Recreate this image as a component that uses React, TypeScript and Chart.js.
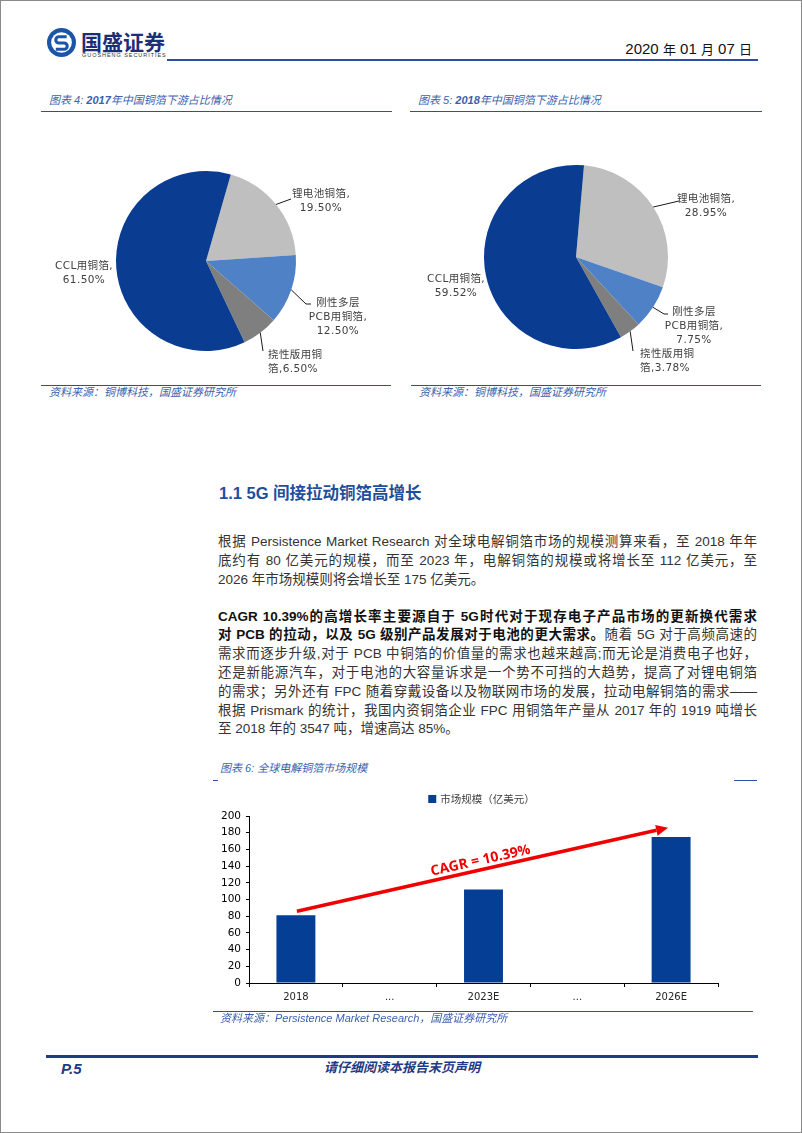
import React, { useEffect, useRef } from "react";
import { Chart, registerables } from "chart.js";

Chart.register(...registerables);

// ---------- data ----------
const PIE_CATEGORIES = ["锂电池铜箔", "刚性多层PCB用铜箔", "挠性版用铜箔", "CCL用铜箔"];
const PIE_2017_VALUES = [19.5, 12.5, 6.5, 61.5];
const PIE_2018_VALUES = [28.95, 7.75, 3.78, 59.52];
const PIE_COLORS = ["#bfbfbf", "#4f81c7", "#7f7f7f", "#0a3d92"];

const BAR_CATEGORIES = ["2018", "...", "2023E", "...", "2026E"];
const BAR_VALUES = [81, null, 112, null, 175];
const BAR_SERIES_LABEL = "市场规模（亿美元）";
const Y_TICK_MIN = 0;
const Y_TICK_MAX = 200;
const Y_TICK_STEP = 20;
const CAGR_LABEL = "CAGR = 10.39%";
const ARROW_START = { index: 0, value: 86 };
const ARROW_END = { index: 4, value: 186 };

// ---------- styles ----------
const LATIN = "'Liberation Sans'";
const CJK = "'Noto Sans CJK SC'";
const BODY_FONT = `${LATIN}, ${CJK}, sans-serif`;
const PIE_LABEL_FONT = `10.5px 'DejaVu Sans', ${CJK}`;
const TITLE_BLUE = "#3c5fae";
const LINE_BLUE = "#2b4fa2";
const BAR_BLUE = "#053e95";

const pct = (v: number) => v.toFixed(2) + "%";
function pieLabelLines(values: number[]): string[][] {
  return [
    [PIE_CATEGORIES[0] + ",", pct(values[0])],
    ["刚性多层", "PCB用铜箔,", pct(values[1])],
    ["挠性版用铜", "箔," + pct(values[2])],
    [PIE_CATEGORIES[3] + ",", pct(values[3])],
  ];
}

type LabelLayout = { dx: number; dy: number; align: string; leader: number[][] };

const PIE1_LAYOUT: LabelLayout[] = [
  { dx: 115, dy: -67, align: "center", leader: [[85, -62]] },
  { dx: 132, dy: 42, align: "center", leader: [[100, 43], [105, 43]] },
  { dx: 62, dy: 94, align: "left", leader: [[57, 90]] },
  { dx: -122, dy: 5, align: "center", leader: [] },
];
const PIE2_LAYOUT: LabelLayout[] = [
  { dx: 130, dy: -58, align: "center", leader: [[103, -56]] },
  { dx: 118, dy: 55, align: "center", leader: [[88, 57], [92, 57]] },
  { dx: 64, dy: 97, align: "left", leader: [[57, 94]] },
  { dx: -120, dy: 22, align: "center", leader: [] },
];

function makePieLabelPlugin(lines: string[][], layout: LabelLayout[]) {
  return {
    id: "pieLabels",
    afterDatasetsDraw(chart: any) {
      const ctx = chart.ctx;
      const meta = chart.getDatasetMeta(0);
      ctx.save();
      meta.data.forEach((arc: any, i: number) => {
        const p = arc.getProps(["x", "y", "startAngle", "endAngle", "outerRadius"], true);
        const L = layout[i];
        if (L.leader.length) {
          const mid = (p.startAngle + p.endAngle) / 2;
          ctx.beginPath();
          ctx.moveTo(p.x + Math.cos(mid) * p.outerRadius, p.y + Math.sin(mid) * p.outerRadius);
          for (const [dx, dy] of L.leader) ctx.lineTo(p.x + dx, p.y + dy);
          ctx.strokeStyle = "#1a1a1a";
          ctx.lineWidth = 1;
          ctx.stroke();
        }
        ctx.fillStyle = "#404040";
        ctx.font = PIE_LABEL_FONT;
        try {
          (ctx as any).letterSpacing = "0.4px";
        } catch (e) {}
        ctx.textAlign = L.align;
        ctx.textBaseline = "middle";
        lines[i].forEach((t, k) => ctx.fillText(t, p.x + L.dx, p.y + L.dy + k * 14));
      });
      ctx.restore();
    },
  };
}

function PieChart(props: {
  values: number[];
  layout: LabelLayout[];
  left: number;
  top: number;
  width: number;
  height: number;
  padding: any;
  rotation: number;
}) {
  const ref = useRef<HTMLCanvasElement>(null);
  useEffect(() => {
    const chart = new Chart(ref.current as HTMLCanvasElement, {
      type: "pie",
      data: {
        labels: PIE_CATEGORIES,
        datasets: [
          { data: props.values, backgroundColor: PIE_COLORS, borderWidth: 0, hoverOffset: 0, offset: 0 } as any,
        ],
      },
      options: {
        animation: false,
        responsive: false,
        events: [],
        rotation: props.rotation,
        layout: { padding: props.padding },
        plugins: { legend: { display: false }, tooltip: { enabled: false } },
      } as any,
      plugins: [makePieLabelPlugin(pieLabelLines(props.values), props.layout)],
    });
    return () => chart.destroy();
  }, []);
  return (
    <canvas
      ref={ref}
      width={props.width}
      height={props.height}
      style={{ position: "absolute", left: props.left, top: props.top, width: props.width, height: props.height }}
    />
  );
}

const barLegendPlugin = {
  id: "barLegend",
  afterDraw(chart: any) {
    const ctx = chart.ctx;
    const ds = chart.data.datasets[0];
    const { left, right } = chart.chartArea;
    ctx.save();
    ctx.font = `10.5px ${CJK}`;
    const tw = ctx.measureText(ds.label).width;
    const box = 8;
    const total = box + 4 + tw;
    const x0 = (left + right) / 2 - total / 2 - 2;
    const cy = 13;
    ctx.fillStyle = ds.backgroundColor;
    ctx.fillRect(x0, cy - box / 2, box, box);
    ctx.fillStyle = "#404040";
    ctx.textBaseline = "middle";
    ctx.textAlign = "left";
    ctx.fillText(ds.label, x0 + box + 4, cy);
    ctx.restore();
  },
};

const cagrArrowPlugin = {
  id: "cagrArrow",
  afterDatasetsDraw(chart: any) {
    const ctx = chart.ctx;
    const xs = chart.scales.x;
    const ys = chart.scales.y;
    const x1 = xs.getPixelForValue(ARROW_START.index) + 1;
    const y1 = ys.getPixelForValue(ARROW_START.value);
    const x2 = xs.getPixelForValue(ARROW_END.index) - 3;
    const y2 = ys.getPixelForValue(ARROW_END.value);
    const ang = Math.atan2(y2 - y1, x2 - x1);
    const head = 12;
    const hw = 5.5;
    ctx.save();
    ctx.strokeStyle = "#f00000";
    ctx.fillStyle = "#f00000";
    ctx.lineWidth = 3.5;
    ctx.beginPath();
    ctx.moveTo(x1, y1);
    ctx.lineTo(x2 - Math.cos(ang) * head, y2 - Math.sin(ang) * head);
    ctx.stroke();
    ctx.beginPath();
    ctx.moveTo(x2, y2);
    ctx.lineTo(x2 - Math.cos(ang) * head - Math.sin(ang) * hw, y2 - Math.sin(ang) * head + Math.cos(ang) * hw);
    ctx.lineTo(x2 - Math.cos(ang) * head + Math.sin(ang) * hw, y2 - Math.sin(ang) * head - Math.cos(ang) * hw);
    ctx.closePath();
    ctx.fill();
    // label
    ctx.translate((x1 + x2) / 2, (y1 + y2) / 2);
    ctx.rotate(ang);
    ctx.font = "bold 14px 'Open Sans'";
    ctx.textAlign = "center";
    ctx.textBaseline = "bottom";
    ctx.fillStyle = "#ee0000";
    ctx.fillText(CAGR_LABEL, 0, -2);
    ctx.restore();
  },
};

function BarChart() {
  const ref = useRef<HTMLCanvasElement>(null);
  useEffect(() => {
    const chart = new Chart(ref.current as HTMLCanvasElement, {
      type: "bar",
      data: {
        labels: BAR_CATEGORIES,
        datasets: [
          {
            label: BAR_SERIES_LABEL,
            data: BAR_VALUES,
            backgroundColor: BAR_BLUE,
            barPercentage: 0.415,
            categoryPercentage: 1,
          } as any,
        ],
      },
      options: {
        animation: false,
        responsive: false,
        events: [],
        layout: { padding: { top: 30, right: 43, left: 0, bottom: 0 } },
        plugins: { legend: { display: false }, tooltip: { enabled: false } },
        scales: {
          x: {
            offset: true,
            grid: { offset: true, drawOnChartArea: false, drawTicks: true, tickLength: 4, color: "#000" },
            border: { color: "#000", width: 1 },
            ticks: { color: "#262626", font: { family: "'DejaVu Sans'", size: 10 }, padding: 4, maxRotation: 0 },
            afterFit: (s: any) => {
              s.height = 28;
            },
          },
          y: {
            min: Y_TICK_MIN,
            max: Y_TICK_MAX,
            ticks: { stepSize: Y_TICK_STEP, color: "#000", font: { family: "'DejaVu Sans'", size: 10.5 }, padding: 5 },
            grid: { drawOnChartArea: false, drawTicks: true, tickLength: 3, color: "#000" },
            border: { color: "#000", width: 1 },
            afterFit: (s: any) => {
              s.width = 48;
            },
          },
        },
      } as any,
      plugins: [barLegendPlugin, cagrArrowPlugin],
    });
    return () => chart.destroy();
  }, []);
  return (
    <canvas
      ref={ref}
      width={560}
      height={225}
      style={{ position: "absolute", left: 200, top: 785, width: 560, height: 225 }}
    />
  );
}

// ---------- page helpers ----------
function Line(p: { left: number; top: number; width: number; height: number; color?: string }) {
  return (
    <div
      style={{
        position: "absolute",
        left: p.left,
        top: p.top,
        width: p.width,
        height: p.height,
        background: p.color || LINE_BLUE,
      }}
    />
  );
}

function Txt(p: { x: number; cy: number; size: number; style?: any; children: any; lh?: number }) {
  const lh = p.lh || p.size + 6;
  return (
    <div
      style={{
        position: "absolute",
        left: p.x,
        top: p.cy - lh / 2,
        lineHeight: lh + "px",
        fontSize: p.size,
        whiteSpace: "nowrap",
        fontFamily: BODY_FONT,
        ...(p.style || {}),
      }}
    >
      {p.children}
    </div>
  );
}

type Seg = [string, boolean];
const P1: Seg[][] = [
  [["根据 Persistence Market Research 对全球电解铜箔市场的规模测算来看，至 2018 年年", false]],
  [["底约有 80 亿美元的规模，而至 2023 年，电解铜箔的规模或将增长至 112 亿美元，至", false]],
  [["2026 年市场规模则将会增长至 175 亿美元。", false]],
];
const P2: Seg[][] = [
  [["CAGR 10.39%的高增长率主要源自于 5G时代对于现存电子产品市场的更新换代需求", true]],
  [
    ["对 PCB 的拉动，以及 5G 级别产品发展对于电池的更大需求。", true],
    ["随着 5G 对于高频高速的", false],
  ],
  [["需求而逐步升级,对于 PCB 中铜箔的价值量的需求也越来越高;而无论是消费电子也好，", false]],
  [["还是新能源汽车，对于电池的大容量诉求是一个势不可挡的大趋势，提高了对锂电铜箔", false]],
  [["的需求；另外还有 FPC 随着穿戴设备以及物联网市场的发展，拉动电解铜箔的需求——", false]],
  [["根据 Prismark 的统计，我国内资铜箔企业 FPC 用铜箔年产量从 2017 年的 1919 吨增长", false]],
  [["至 2018 年的 3547 吨，增速高达 85%。", false]],
];

function Paragraph(p: { lines: Seg[][]; firstCy: number; lh: number }) {
  return (
    <>
      {p.lines.map((segs, i) => {
        const last = i === p.lines.length - 1;
        return (
          <div
            key={i}
            style={{
              position: "absolute",
              left: 217,
              width: 539,
              top: p.firstCy + i * p.lh - p.lh / 2,
              height: p.lh,
              lineHeight: p.lh + "px",
              fontSize: 13.5,
              fontFamily: BODY_FONT,
              color: "#333",
              textAlign: last ? "left" : "justify",
              textAlignLast: last ? "left" : "justify",
            } as any}
          >
            {segs.map(([t, b], k) => (
              <span key={k} style={{ fontWeight: b ? 700 : 400, color: b ? "#111" : "#333" }}>
                {t}
              </span>
            ))}
          </div>
        );
      })}
    </>
  );
}

const italicBlue = { fontStyle: "italic", color: TITLE_BLUE };

export default function App() {
  return (
    <div
      style={{
        position: "absolute",
        left: 0,
        top: 0,
        width: 802,
        height: 1133,
        background: "#fff",
        border: "1px solid #8a8a8a",
        boxSizing: "border-box",
        overflow: "hidden",
        fontFamily: BODY_FONT,
      }}
    >
      {/* logo */}
      <svg style={{ position: "absolute", left: 46, top: 27 }} width={29} height={29} viewBox="0 0 28 28">
        <circle cx="14" cy="14" r="14" fill="#1b55a7" />
        <circle cx="14" cy="14" r="10" fill="#fff" />
        <path d="M19 8.5 H11.5 a3 3 0 0 0 0 6 h5 a3 3 0 0 1 0 6 H8.5" stroke="#1b55a7" strokeWidth="3" fill="none" />
      </svg>
      <Txt x={80} cy={40} size={21} style={{ fontWeight: 700, color: "#1d2f74", fontFamily: `${CJK}` }}>
        国盛证券
      </Txt>
      <Txt x={81} cy={54} size={5.5} lh={7} style={{ letterSpacing: "0.95px", color: "#333" }}>
        GUOSHENG SECURITIES
      </Txt>
      <Line left={166} top={58} width={591} height={2} />
      <div
        style={{
          position: "absolute",
          right: 49,
          top: 38,
          lineHeight: "20px",
          fontSize: 15,
          color: "#111",
          whiteSpace: "nowrap",
          fontFamily: BODY_FONT,
        }}
      >
        2020 <span style={{ fontSize: 13 }}>年</span> 01 <span style={{ fontSize: 13 }}>月</span> 07{" "}
        <span style={{ fontSize: 13 }}>日</span>
      </div>

      {/* pie titles */}
      <Txt x={48} cy={99} size={11} style={italicBlue}>
        图表 4: <b>2017</b>年中国铜箔下游占比情况
      </Txt>
      <Line left={40} top={110} width={351} height={1} />
      <Txt x={417} cy={99} size={11} style={italicBlue}>
        图表 5: <b>2018</b>年中国铜箔下游占比情况
      </Txt>
      <Line left={409} top={110} width={352} height={1} />

      <PieChart
        values={PIE_2017_VALUES}
        layout={PIE1_LAYOUT}
        left={40}
        top={118}
        width={350}
        height={262}
        padding={{ left: 75, right: 95, top: 52, bottom: 30 }}
        rotation={16}
      />
      <PieChart
        values={PIE_2018_VALUES}
        layout={PIE2_LAYOUT}
        left={410}
        top={118}
        width={350}
        height={262}
        padding={{ left: 73, right: 93, top: 46, bottom: 32 }}
        rotation={5}
      />

      <Line left={40} top={384} width={350} height={1} />
      <Txt x={48} cy={391} size={11} style={italicBlue}>
        资料来源：铜博科技，国盛证券研究所
      </Txt>
      <Line left={410} top={384} width={350} height={1} />
      <Txt x={418} cy={391} size={11} style={italicBlue}>
        资料来源：铜博科技，国盛证券研究所
      </Txt>

      {/* section heading */}
      <Txt x={218} cy={492} size={16.5} style={{ fontWeight: 700, color: "#1f4e9d" }}>
        1.1 5G 间接拉动铜箔高增长
      </Txt>

      <Paragraph lines={P1} firstCy={540} lh={19} />
      <Paragraph lines={P2} firstCy={616} lh={18.8} />

      {/* chart 6 */}
      <Txt x={219} cy={767} size={11} style={italicBlue}>
        图表 6: 全球电解铜箔市场规模
      </Txt>
      <Line left={212} top={779} width={5} height={1} />
      <Line left={733} top={779} width={23} height={1} />
      <BarChart />
      <Line left={212} top={1010} width={540} height={1} />
      <Txt x={219} cy={1017} size={11} style={italicBlue}>
        资料来源：Persistence Market Research，国盛证券研究所
      </Txt>

      {/* footer */}
      <Line left={45} top={1054} width={712} height={3} color="#1f3a86" />
      <Txt x={60} cy={1067} size={15} style={{ fontWeight: 700, fontStyle: "italic", color: "#1f3a86" }}>
        P.5
      </Txt>
      <div
        style={{
          position: "absolute",
          left: 0,
          width: 802,
          top: 1057,
          lineHeight: "20px",
          textAlign: "center",
          fontSize: 13,
          fontWeight: 700,
          fontStyle: "italic",
          color: "#1f3a86",
          fontFamily: BODY_FONT,
        }}
      >
        请仔细阅读本报告末页声明
      </div>
    </div>
  );
}
